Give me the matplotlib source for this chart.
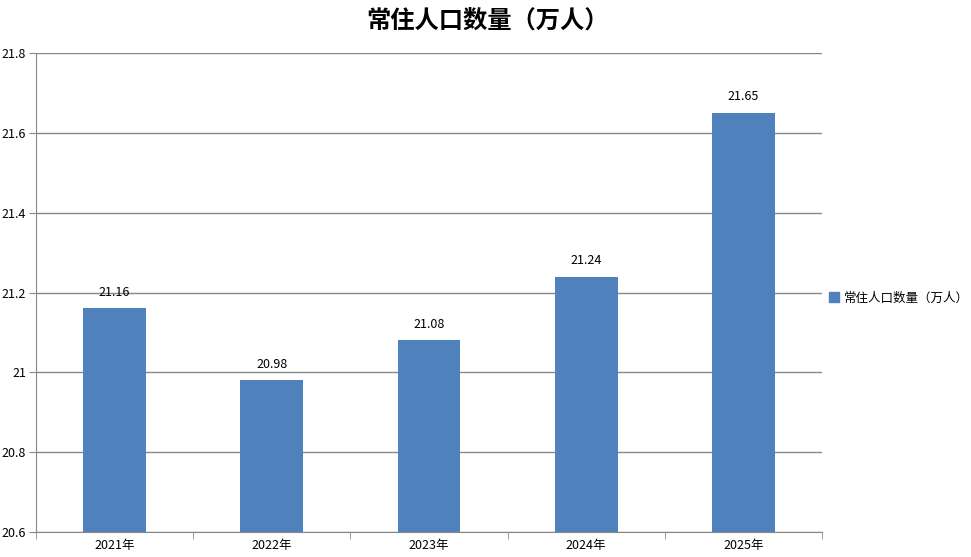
import matplotlib.pyplot as plt
from matplotlib.patches import Patch
import numpy as np

plt.rcParams['font.family'] = ['Noto Sans CJK SC', 'DejaVu Sans']

years = ['2021年', '2022年', '2023年', '2024年', '2025年']
values = [21.16, 20.98, 21.08, 21.24, 21.65]
yticks = [20.6, 20.8, 21.0, 21.2, 21.4, 21.6, 21.8]
ytick_labels = ['20.6', '20.8', '21', '21.2', '21.4', '21.6', '21.8']
series_name = '常住人口数量（万人）'

bar_color = '#4F81BD'
line_color = '#888888'

fig = plt.figure(figsize=(9.71, 5.57), dpi=100)
ax = fig.add_axes([36 / 971, 25 / 557, 786 / 971, 479 / 557])

x = np.arange(len(years))
ax.bar(x, values, width=0.4, color=bar_color, zorder=3)

for xi, v in zip(x, values):
    ax.annotate(f'{v:.2f}', (xi, v), xytext=(0, 7), textcoords='offset points',
                ha='center', va='bottom', fontsize=9)

ax.set_xlim(-0.5, len(years) - 0.5)
ax.set_ylim(20.6, 21.8)
ax.set_yticks(yticks)
ax.set_yticklabels(ytick_labels, fontsize=9)

# category labels centred, ticks on boundaries
ax.set_xticks(x)
ax.set_xticklabels(years, fontsize=9)
ax.tick_params(axis='x', length=0, pad=5)
ax.set_xticks(np.arange(-0.5, len(years), 1), minor=True)
ax.tick_params(axis='x', which='minor', length=5, color=line_color)
ax.tick_params(axis='y', length=5, color=line_color, pad=2)

ax.yaxis.grid(True, color=line_color, linewidth=1)
for side in ['top', 'right']:
    ax.spines[side].set_visible(False)
for side in ['left', 'bottom']:
    ax.spines[side].set_color(line_color)

fig.text(488 / 971, 1 - 22 / 557, series_name, ha='center', va='center',
         fontsize=17.5, fontweight='bold')

fig.legend(handles=[Patch(color=bar_color, label=series_name)],
           loc='center left', bbox_to_anchor=(829 / 971, 1 - 298 / 557),
           frameon=False, fontsize=9, handlelength=0.8, handleheight=0.8,
           handletextpad=0.4, borderaxespad=0, borderpad=0)

fig.savefig('out.png', dpi=100)
